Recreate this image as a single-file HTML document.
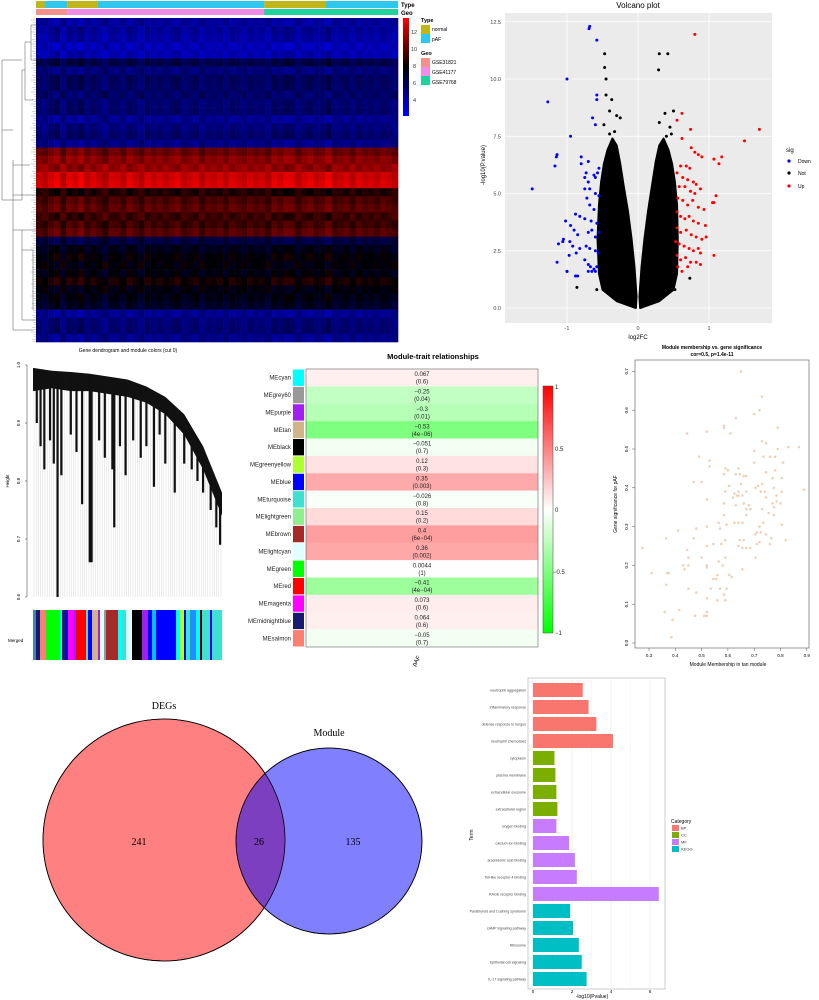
<!DOCTYPE html>
<html><head><meta charset="utf-8">
<style>
body{margin:0;background:#fff;}
svg{display:block;font-family:"Liberation Sans",sans-serif;}
</style></head>
<body>
<svg id="fig" width="819" height="1000" viewBox="0 0 819 1000">
<rect width="819" height="1000" fill="#fff"/>
<g id="hm"></g>
<g id="hmleg">
  <text x="401" y="7" font-size="6" font-weight="bold">Type</text>
  <text x="401" y="15" font-size="6" font-weight="bold">Geo</text>
  <defs><linearGradient id="hmgrad" x1="0" y1="0" x2="0" y2="1"><stop offset="0" stop-color="#ff0000"/><stop offset="0.5" stop-color="#000000"/><stop offset="1" stop-color="#0000ff"/></linearGradient></defs>
  <rect x="403" y="18" width="6" height="98" fill="url(#hmgrad)"/>
  <g font-size="5.5" fill="#333">
    <text x="411" y="34">12</text><text x="411" y="51">10</text><text x="413" y="68">8</text><text x="413" y="85">6</text><text x="413" y="102">4</text>
  </g>
  <text x="421" y="22" font-size="5.5" font-weight="bold">Type</text>
  <rect x="421" y="25" width="9" height="9" fill="#c0b51a"/>
  <text x="432" y="31" font-size="5">normal</text>
  <rect x="421" y="34" width="9" height="9" fill="#2ec7f0"/>
  <text x="432" y="41" font-size="5">pAF</text>
  <text x="421" y="55" font-size="5.5" font-weight="bold">Geo</text>
  <rect x="421" y="58" width="9" height="9" fill="#f4918a"/>
  <text x="432" y="64" font-size="5">GSE31821</text>
  <rect x="421" y="67" width="9" height="9" fill="#f08be8"/>
  <text x="432" y="74" font-size="5">GSE41177</text>
  <rect x="421" y="76" width="9" height="9" fill="#20d39a"/>
  <text x="432" y="84" font-size="5">GSE79768</text>
</g>

<g id="volc">
  <text x="638" y="8" font-size="8" text-anchor="middle">Volcano plot</text>
  <rect x="505" y="13" width="267" height="310" fill="#ebebeb"/>
  <text transform="translate(485,165) rotate(-90)" font-size="6" text-anchor="middle">-log10(P.value)</text>
  <text x="638" y="339" font-size="6" text-anchor="middle">log2FC</text>
  <text x="786" y="152" font-size="6">sig</text>
  <circle cx="789" cy="161" r="1.6" fill="#0000ff"/>
  <text x="798" y="163" font-size="5">Down</text>
  <circle cx="789" cy="173" r="1.6" fill="#000"/>
  <text x="798" y="175" font-size="5">Not</text>
  <circle cx="789" cy="186" r="1.6" fill="#ff0000"/>
  <text x="798" y="188" font-size="5">Up</text>
</g>

<g id="dendro">
  <text x="128" y="352" font-size="5" text-anchor="middle">Gene dendrogram and module colors (cut 0)</text>
  <text transform="translate(9,481) rotate(-90)" font-size="4.5" text-anchor="middle">Height</text>
  <text x="8" y="642" font-size="4.5">Merged</text>
</g>

<g id="mtr">
  <text x="433" y="359" font-size="7.5" font-weight="bold" text-anchor="middle">Module-trait relationships</text>
  <defs><linearGradient id="mtgrad" x1="0" y1="0" x2="0" y2="1"><stop offset="0" stop-color="#ff0000"/><stop offset="0.5" stop-color="#ffffff"/><stop offset="1" stop-color="#00ff00"/></linearGradient></defs>
  <rect x="543" y="386" width="10" height="247" fill="url(#mtgrad)" stroke="#444" stroke-width="0.5"/>
  <g font-size="6" fill="#222">
    <text x="555" y="389">1</text><text x="555" y="451">0.5</text><text x="555" y="512">0</text><text x="553" y="574">−0.5</text><text x="555" y="635">−1</text>
  </g>
  <text transform="translate(418,662) rotate(-60)" font-size="6" text-anchor="middle">pAF</text>
</g>

<g id="sc">
  <text x="712" y="349" font-size="5" font-weight="bold" text-anchor="middle">Module membership vs. gene significance</text>
  <text x="712" y="356" font-size="5" font-weight="bold" text-anchor="middle">cor=0.5, p=1.4e-11</text>
  <rect x="635" y="360" width="174" height="288" fill="#fff" stroke="#555" stroke-width="0.6"/>
  <text transform="translate(617,504) rotate(-90)" font-size="5" text-anchor="middle">Gene significance for pAF</text>
  <text x="728" y="666" font-size="5" text-anchor="middle">Module Membership in tan module</text>
</g>

<g id="venn">
  <defs><clipPath id="cl"><circle cx="164" cy="840" r="121"/></clipPath></defs>
  <circle cx="164" cy="840" r="121" fill="#ff8080" stroke="#000" stroke-width="0.8"/>
  <circle cx="329" cy="841" r="93" fill="#8080ff" stroke="#000" stroke-width="0.8"/>
  <circle cx="329" cy="841" r="93" fill="#7b3fbf" clip-path="url(#cl)"/>
  <circle cx="164" cy="840" r="121" fill="none" stroke="#000" stroke-width="0.8"/>
  <circle cx="329" cy="841" r="93" fill="none" stroke="#000" stroke-width="0.8"/>
  <g font-family="Liberation Serif,serif" font-size="10" text-anchor="middle">
    <text x="164" y="709">DEGs</text>
    <text x="329" y="736">Module</text>
    <text x="139" y="845">241</text>
    <text x="259" y="845">26</text>
    <text x="353" y="845">135</text>
  </g>
</g>

<g id="bar">
  <rect x="528" y="678" width="137" height="311" fill="#fff" stroke="#999" stroke-width="0.5"/>
  <text transform="translate(473,835) rotate(-90)" font-size="5" text-anchor="middle">Term</text>
  <text x="592" y="998" font-size="5" text-anchor="middle">-log10(Pvalue)</text>
  <text x="671" y="823" font-size="5">Category</text>
</g>
</svg>

<script>
var NS='http://www.w3.org/2000/svg';
function mk(parent,tag,attrs){var e=document.createElementNS(NS,tag);for(var k in attrs)e.setAttribute(k,attrs[k]);parent.appendChild(e);return e;}

/* ---------- heatmap data ---------- */
var hmRowValues=[5.4,5.2,5.0,4.9,4.8,6.6,6.0,6.2,6.1,6.3,5.9,6.0,5.6,5.7,6.0,5.8,9.5,10.0,10.4,11.0,11.2,8.6,9.0,9.3,9.0,8.8,9.2,7.0,7.4,7.8,8.0,7.6,8.2,7.9,7.5,7.2,5.6,5.8,5.9,5.7];
var hmColOffsets=[0.1,-0.2,0.3,0.6,-0.3,0.5,0.2,0.7,-0.1,0.4,0.0,-0.4,0.3,0.2,-0.2,0.5,0.1,-0.3,0.4,0.0,0.3,-0.1,0.2,0.5,-0.2,0.1,0.4,-0.3,0.2,0.0,0.3,-0.2,0.4,0.1,-0.1,0.3,0.0,0.2,-0.3,0.5,0.1,0.6,0.4,-0.2,0.3,0.5,0.0,0.2,0.7,-0.1,0.1,0.3,-0.2,0.4,0.0,0.2,-0.1,0.3,0.1,-0.2];
var typeSegments=[[0,0.025,'#c0b51a'],[0.025,0.086,'#2ec7f0'],[0.086,0.171,'#c0b51a'],[0.171,0.630,'#2ec7f0'],[0.630,0.801,'#c0b51a'],[0.801,1,'#2ec7f0']];
var geoSegments=[[0,0.086,'#f4918a'],[0.086,0.630,'#f08be8'],[0.630,1,'#20d39a']];
(function(){
 var g=document.getElementById('hm');var x0=36,x1=398,y0=18,y1=342;
 var rh=(y1-y0)/hmRowValues.length,cw=(x1-x0)/hmColOffsets.length;
 function col(v){if(v<8){var t=Math.min(1,(8-v)/4);return 'rgb(0,0,'+Math.round(225*t)+')';}var t2=Math.min(1,(v-8)/4);return 'rgb('+Math.round(255*t2)+',0,0)';}
 hmRowValues.forEach(function(rv,r){hmColOffsets.forEach(function(co,c){
   var sgn=(r%3===0)?-1:1;
   var cell=mk(g,'rect',{x:x0+c*cw,y:y0+r*rh,width:cw+0.3,height:rh+0.3,fill:col(rv+co*sgn)});
   
   
 });});
 typeSegments.forEach(function(s){var e=mk(g,'rect',{x:x0+s[0]*(x1-x0),y:1,width:(s[1]-s[0])*(x1-x0),height:7,fill:s[2]});
   
   });
 geoSegments.forEach(function(s){var e=mk(g,'rect',{x:x0+s[0]*(x1-x0),y:9,width:(s[1]-s[0])*(x1-x0),height:6,fill:s[2]});
   
   });
 var d='M36,25 H31 V60 H36 M31,42 H25 V100 H33 M25,70 H22 V200 H2 V60 H22 M13,160 V230 H36 M13,165 H30 M13,195 H36 M2,130 H13 M13,230 V330 H33 M22,250 H33 V310 M22,230 V320 H36';
 var dl=mk(g,'path',{d:d,fill:'none',stroke:'#555','stroke-width':0.5});
 
 
 for(var y=20;y<342;y+=2.4){var l=mk(g,'line',{x1:31+(Math.round(y)*7%4),y1:y,x2:36,y2:y,stroke:'#666','stroke-width':0.3});
   
   }
})();

/* ---------- volcano data ---------- */
var downPoints=[[-0.69,12.2],[-0.68,12.3],[-0.58,11.7],[-1.0,10.0],[-1.27,9.0],[-0.58,9.3],[-0.58,9.1],[-0.64,8.3],[-0.6,8.0],[-0.95,7.5],[-1.14,6.7],[-1.15,6.6],[-1.17,6.2],[-1.49,5.2],[-0.8,6.6],[-0.8,6.3],[-0.7,6.4],[-0.55,6.1],[-0.73,5.9],[-0.75,5.7],[-0.62,5.8],[-0.6,5.7],[-0.57,5.9],[-0.7,5.5],[-0.75,5.2],[-0.68,5.2],[-0.6,5.0],[-0.72,4.8],[-0.55,4.9],[-0.68,4.5],[-0.62,4.3],[-0.88,4.1],[-0.82,4.0],[-0.75,3.9],[-0.66,3.8],[-0.58,3.7],[-1.02,3.8],[-0.95,3.6],[-0.9,3.4],[-0.85,3.2],[-0.7,3.3],[-0.65,3.4],[-0.6,3.1],[-0.55,3.3],[-1.05,3.0],[-1.06,2.9],[-1.12,2.8],[-0.96,2.9],[-0.92,2.7],[-0.82,2.6],[-0.87,2.4],[-0.73,2.7],[-0.68,2.6],[-0.6,2.5],[-0.56,2.4],[-0.97,2.3],[-1.14,2.0],[-0.75,2.1],[-0.7,1.9],[-0.67,1.8],[-0.62,1.7],[-0.58,1.8],[-1.0,1.6],[-0.88,1.4],[-0.85,1.4],[-0.7,1.6],[-0.65,1.6],[-0.6,1.6]];
var upPoints=[[0.8,11.95],[1.71,7.8],[1.5,7.3],[0.62,8.5],[0.55,8.2],[0.74,7.8],[0.62,7.4],[1.07,6.5],[1.18,6.6],[1.14,6.3],[1.1,4.9],[1.07,4.6],[1.05,4.6],[1.07,2.3],[0.88,2.4],[0.75,7.0],[0.8,6.8],[0.85,6.7],[0.9,6.6],[0.6,6.2],[0.68,6.2],[0.73,6.1],[0.55,5.9],[0.63,5.7],[0.7,5.6],[0.78,5.5],[0.82,5.4],[0.58,5.3],[0.66,5.3],[0.74,5.1],[0.8,5.0],[0.88,5.2],[0.56,4.8],[0.63,4.7],[0.7,4.5],[0.77,4.7],[0.85,4.4],[0.93,4.3],[0.55,4.2],[0.6,4.0],[0.66,3.9],[0.72,4.0],[0.78,3.8],[0.85,3.7],[0.95,3.6],[0.55,3.5],[0.6,3.3],[0.68,3.4],[0.75,3.2],[0.82,3.1],[0.9,3.0],[0.96,3.1],[0.53,2.9],[0.58,2.8],[0.65,2.7],[0.72,2.6],[0.78,2.5],[0.85,2.6],[0.55,2.3],[0.6,2.1],[0.67,2.2],[0.74,2.0],[0.82,2.0],[0.88,1.9],[0.56,1.8],[0.62,1.6],[0.7,1.8]];
var notPoints=[[-0.47,11.1],[-0.47,10.5],[-0.45,10.0],[-0.45,9.3],[-0.37,9.1],[-0.4,8.6],[-0.3,8.4],[-0.25,8.3],[-0.48,8.0],[0.3,11.1],[0.42,11.1],[0.29,10.4],[0.5,8.6],[0.38,8.5],[0.3,8.1],[0.45,7.9],[0.47,7.6],[-0.4,7.6],[-0.33,7.7],[0.4,7.5],[-1.0,1.6],[-0.86,0.9],[-0.58,0.8],[0.52,0.8],[0.73,1.3]];
var notEnvelopeLeft=[[-0.03,0],[-0.3,0.3],[-0.5,0.8],[-0.55,1.5],[-0.57,3],[-0.55,4.5],[-0.52,5.5],[-0.48,6.3],[-0.43,6.9],[-0.36,7.4],[-0.3,7.1],[-0.25,6.3],[-0.2,5.3],[-0.14,4.2],[-0.09,3],[-0.05,1.8],[-0.02,0.5]];
var notEnvelopeRight=[[0.02,0.5],[0.05,1.8],[0.09,3],[0.14,4.2],[0.2,5.4],[0.25,6.4],[0.3,7.1],[0.36,7.4],[0.43,6.9],[0.48,6.3],[0.52,5.5],[0.55,4.5],[0.56,3],[0.55,1.5],[0.5,0.8],[0.3,0.3],[0.03,0]];
var volcXTicks=[-1,0,1];
var volcYTicks=[0,2.5,5,7.5,10,12.5];
var volcYTickLabels=['0.0','2.5','5.0','7.5','10.0','12.5'];
(function(){
 var g=document.getElementById('volc');
 function X(v){return 638+v*71;} function Y(v){return 308-v*22.9;}
 volcYTicks.forEach(function(t,i){
   var l=mk(g,'line',{x1:505,x2:772,y1:Y(t),y2:Y(t),stroke:'#fff','stroke-width':0.8});
   
   
   var tx=mk(g,'text',{x:501,y:Y(t)+2,'font-size':5.5,'text-anchor':'end',fill:'#444'});tx.textContent=volcYTickLabels[i];
   
   
 });
 volcXTicks.forEach(function(t){
   var l=mk(g,'line',{x1:X(t),x2:X(t),y1:13,y2:323,stroke:'#fff','stroke-width':0.8});
   
   
   var tx=mk(g,'text',{x:X(t),y:330,'font-size':5.5,'text-anchor':'middle',fill:'#444'});tx.textContent=String(t);
   
   
 });
 [notEnvelopeLeft,notEnvelopeRight].forEach(function(env){
   var p=mk(g,'polygon',{points:env.map(function(q){return X(q[0])+','+Y(q[1]);}).join(' '),fill:'#000',stroke:'#000','stroke-width':2,'stroke-linejoin':'round'});
   
   
 });
 function dots(arr,fill,name){arr.forEach(function(q){var c=mk(g,'circle',{cx:X(q[0]),cy:Y(q[1]),r:1.5,fill:fill});
   
   });}
 dots(notPoints,'#000','not-point');dots(downPoints,'#0000ff','down-point');dots(upPoints,'#ff0000','up-point');
})();

/* ---------- module dendrogram ---------- */
var dendroTopEnvelope=[0.995,0.99,0.988,0.985,0.98,0.975,0.963,0.945,0.915,0.86,0.78];
var dendroMassBottom=[0.955,0.96,0.955,0.955,0.95,0.945,0.935,0.915,0.88,0.82,0.74];
var dendroSpikeX=[0.02,0.04,0.06,0.09,0.11,0.13,0.15,0.2,0.23,0.26,0.3,0.31,0.35,0.38,0.42,0.43,0.46,0.49,0.53,0.57,0.6,0.64,0.67,0.7,0.75,0.8,0.84,0.87,0.9,0.94,0.97,0.99];
var dendroSpikeMin=[0.9,0.86,0.82,0.87,0.83,0.6,0.81,0.88,0.85,0.76,0.66,0.66,0.87,0.84,0.82,0.72,0.86,0.81,0.87,0.84,0.86,0.79,0.88,0.83,0.78,0.83,0.82,0.8,0.78,0.75,0.72,0.69];
var dendroYTicks=[1.0,0.9,0.8,0.7,0.6];
var moduleColorBar=[[33,36,'#4682b4'],[36,40,'#191970'],[40,46,'#fa8072'],[46,60,'#00ff00'],[60,62,'#00ffff'],[62,66,'#191970'],[66,68,'#0000ff'],[68,74,'#ff00ff'],[74,76,'#a020f0'],[76,86,'#ff0000'],[86,88,'#40e0d0'],[88,92,'#0000ff'],[92,98,'#d2b48c'],[98,100,'#a020f0'],[100,104,'#e0ffff'],[104,106,'#999999'],[106,118,'#a52a2a'],[118,122,'#00ffff'],[122,126,'#40e0d0'],[126,132,'#e0ffff'],[132,142,'#000000'],[142,148,'#a020f0'],[148,152,'#0000ff'],[152,156,'#00bfff'],[156,162,'#0000ff'],[162,176,'#0000ff'],[176,180,'#00ffff'],[180,184,'#adff2f'],[184,186,'#0000ff'],[186,190,'#40e0d0'],[190,196,'#1e90ff'],[196,200,'#00ffff'],[200,202,'#000000'],[202,210,'#40e0d0'],[210,212,'#0000ff'],[212,222,'#40e0d0']];
(function(){
 var g=document.getElementById('dendro');var x0=33,x1=222;
 function Y(v){return 365+(1-v)*580;} function X(f){return x0+f*(x1-x0);}
 mk(g,'line',{x1:27,x2:27,y1:Y(1),y2:Y(0.6),stroke:'#333','stroke-width':0.5});
 dendroYTicks.forEach(function(t){mk(g,'line',{x1:25,x2:27,y1:Y(t),y2:Y(t),stroke:'#333','stroke-width':0.5});
   var tx=mk(g,'text',{transform:'translate(20,'+Y(t)+') rotate(-90)','font-size':4.5,'text-anchor':'middle'});tx.textContent=t.toFixed(1);
   
   });
 function topAt(f){var i=Math.min(9,Math.floor(f*10));return dendroTopEnvelope[i]+(dendroTopEnvelope[i+1]-dendroTopEnvelope[i])*(f*10-i);}
 for(var x=x0+1;x<x1;x+=2.2){var f=(x-x0)/(x1-x0);
   var l=mk(g,'line',{x1:x,x2:x,y1:Y(topAt(f)),y2:Y(0.6),stroke:'#cfcfcf','stroke-width':0.4});
   
   }
 var pts=[];dendroTopEnvelope.forEach(function(v,i){pts.push(X(i/10)+','+Y(v));});
 for(var j=dendroMassBottom.length-1;j>=0;j--)pts.push(X(j/10)+','+Y(dendroMassBottom[j]));
 var m=mk(g,'polygon',{points:pts.join(' '),fill:'#111'});
 
 
 dendroSpikeX.forEach(function(f,i){var s=mk(g,'line',{x1:X(f),x2:X(f),y1:Y(topAt(f))+3,y2:Y(dendroSpikeMin[i]),stroke:'#111','stroke-width':2.2});
   
   });
 moduleColorBar.forEach(function(s){var r=mk(g,'rect',{x:s[0],y:610,width:s[1]-s[0],height:50,fill:s[2]});
   
   });
})();

/* ---------- module-trait ---------- */
var moduleNames=['MEcyan','MEgrey60','MEpurple','MEtan','MEblack','MEgreenyellow','MEblue','MEturquoise','MElightgreen','MEbrown','MElightcyan','MEgreen','MEred','MEmagenta','MEmidnightblue','MEsalmon'];
var moduleColors=['#00ffff','#999999','#a020f0','#d2b48c','#000000','#adff2f','#0000ff','#40e0d0','#90ee90','#a52a2a','#e0ffff','#00ff00','#ff0000','#ff00ff','#191970','#fa8072'];
var moduleCors=[0.067,-0.25,-0.3,-0.53,-0.051,0.12,0.35,-0.026,0.15,0.4,0.36,0.0044,-0.41,0.073,0.064,-0.05];
var moduleCorLabels=['0.067','−0.25','−0.3','−0.53','−0.051','0.12','0.35','−0.026','0.15','0.4','0.36','0.0044','−0.41','0.073','0.064','−0.05'];
var modulePvals=['(0.6)','(0.04)','(0.01)','(4e−06)','(0.7)','(0.3)','(0.003)','(0.8)','(0.2)','(6e−04)','(0.002)','(1)','(4e−04)','(0.6)','(0.6)','(0.7)'];
(function(){
 var g=document.getElementById('mtr');var y0=369,rh=(647-369)/16;
 function col(v){var t=Math.abs(v);var c=Math.round(255*(1-t*0.95));return v>=0?'rgb(255,'+c+','+c+')':'rgb('+c+',255,'+c+')';}
 moduleNames.forEach(function(n,i){var y=y0+i*rh;
   var c=mk(g,'rect',{x:306,y:y,width:232,height:rh+0.2,fill:col(moduleCors[i])});
   
   
   var sw=mk(g,'rect',{x:293,y:y+0.5,width:11,height:rh-1,fill:moduleColors[i]});
   
   
   var t=mk(g,'text',{x:291,y:y+rh/2+2,'font-size':6,'text-anchor':'end',fill:'#222'});t.textContent=n;
   
   
   var a=mk(g,'text',{x:422,y:y+rh/2-1.5,'font-size':6,'text-anchor':'middle',fill:'#222'});a.textContent=moduleCorLabels[i];
   
   
   var b=mk(g,'text',{x:422,y:y+rh/2+6,'font-size':6,'text-anchor':'middle',fill:'#222'});b.textContent=modulePvals[i];
   
   
 });
 var f=mk(g,'rect',{x:306,y:y0,width:232,height:278,fill:'none',stroke:'#666','stroke-width':0.6});
 
 
})();

/* ---------- scatter ---------- */
var mmValues=[0.65,0.73,0.72,0.70,0.63,0.79,0.585,0.585,0.52,0.445,0.61,0.73,0.745,0.83,0.79,0.87,0.70,0.49,0.53,0.735,0.76,0.78,0.70,0.81,0.53,0.59,0.64,0.78,0.60,0.585,0.63,0.645,0.745,0.66,0.67,0.77,0.805,0.47,0.50,0.73,0.715,0.605,0.65,0.705,0.775,0.89,0.805,0.64,0.67,0.725,0.74,0.59,0.625,0.635,0.655,0.62,0.64,0.745,0.785,0.52,0.585,0.66,0.68,0.63,0.785,0.80,0.77,0.67,0.685,0.73,0.775,0.585,0.755,0.775,0.67,0.625,0.64,0.655,0.565,0.52,0.595,0.735,0.805,0.57,0.48,0.72,0.41,0.71,0.725,0.705,0.745,0.47,0.365,0.59,0.765,0.82,0.645,0.66,0.575,0.545,0.52,0.76,0.72,0.64,0.655,0.67,0.685,0.71,0.275,0.445,0.45,0.50,0.59,0.705,0.565,0.52,0.43,0.45,0.435,0.58,0.52,0.655,0.31,0.37,0.375,0.605,0.56,0.615,0.555,0.545,0.365,0.45,0.535,0.57,0.595,0.48,0.585,0.52,0.59,0.56,0.415,0.36,0.52,0.475,0.51,0.52,0.39,0.385];
var gsValues=[0.70,0.635,0.60,0.59,0.58,0.555,0.56,0.555,0.545,0.54,0.54,0.52,0.515,0.505,0.50,0.505,0.495,0.48,0.47,0.48,0.48,0.48,0.465,0.465,0.455,0.45,0.45,0.445,0.445,0.435,0.435,0.435,0.44,0.43,0.43,0.425,0.425,0.415,0.415,0.41,0.405,0.405,0.41,0.40,0.40,0.395,0.39,0.39,0.39,0.39,0.39,0.39,0.385,0.38,0.38,0.375,0.38,0.375,0.38,0.37,0.36,0.36,0.355,0.355,0.365,0.36,0.36,0.345,0.345,0.345,0.35,0.33,0.335,0.33,0.33,0.31,0.31,0.31,0.31,0.30,0.305,0.31,0.305,0.295,0.295,0.30,0.29,0.285,0.285,0.28,0.28,0.27,0.27,0.265,0.27,0.265,0.265,0.265,0.255,0.255,0.25,0.255,0.26,0.25,0.245,0.245,0.245,0.255,0.245,0.24,0.22,0.22,0.22,0.22,0.21,0.20,0.20,0.20,0.19,0.20,0.195,0.19,0.18,0.18,0.18,0.175,0.175,0.17,0.165,0.165,0.15,0.14,0.14,0.14,0.14,0.13,0.125,0.115,0.11,0.11,0.085,0.08,0.08,0.07,0.07,0.07,0.06,0.015];
var scXTicks=[0.3,0.4,0.5,0.6,0.7,0.8,0.9];
var scYTicks=[0.0,0.1,0.2,0.3,0.4,0.5,0.6,0.7];
(function(){
 var g=document.getElementById('sc');
 function X(v){return 649+(v-0.3)*263;} function Y(v){return 643-v*388;}
 scXTicks.forEach(function(t){mk(g,'line',{x1:X(t),x2:X(t),y1:648,y2:651,stroke:'#555','stroke-width':0.5});
   var tx=mk(g,'text',{x:X(t),y:657,'font-size':4.5,'text-anchor':'middle'});tx.textContent=t.toFixed(1);
   
   });
 scYTicks.forEach(function(t){mk(g,'line',{x1:632,x2:635,y1:Y(t),y2:Y(t),stroke:'#555','stroke-width':0.5});
   var tx=mk(g,'text',{transform:'translate(628,'+Y(t)+') rotate(-90)','font-size':4.5,'text-anchor':'middle'});tx.textContent=t.toFixed(1);
   
   });
 mmValues.forEach(function(v,i){var c=mk(g,'circle',{cx:X(v),cy:Y(gsValues[i]),r:1.3,fill:'#ecd2bd'});
   
   });
})();

/* ---------- enrichment bars ---------- */
var termNames=['neutrophil aggregation','inflammatory response','defense response to fungus','neutrophil chemotaxis','cytoplasm','plasma membrane','extracellular exosome','extracellular region','oxygen binding','calcium ion binding','arachidonic acid binding','Toll-like receptor 4 binding','RAGE receptor binding','Parathyroid and Cushing syndrome','cAMP signaling pathway','Ribosome','Epithelial cell signaling','IL-17 signaling pathway'];
var termCategories=['BP','BP','BP','BP','CC','CC','CC','CC','MF','MF','MF','MF','MF','KEGG','KEGG','KEGG','KEGG','KEGG'];
var termValues=[2.55,2.85,3.25,4.1,1.1,1.15,1.2,1.25,1.2,1.85,2.15,2.25,6.45,1.9,2.05,2.35,2.5,2.75];
var categoryNames=['BP','CC','MF','KEGG'];
var barXTicks=[0,2,4,6];
(function(){
 var g=document.getElementById('bar');
 var catCol={BP:'#F8766D',CC:'#7CAE00',MF:'#C77CFF',KEGG:'#00BFC4'};
 function X(v){return 533+v*19.5;} var y0=690,step=17;
 for(var v=0;v<=6.5;v+=1){var l=mk(g,'line',{x1:X(v),x2:X(v),y1:678,y2:989,stroke:'#ececec','stroke-width':v%2?0.4:0.7});
   
   }
 barXTicks.forEach(function(t){var tx=mk(g,'text',{x:X(t),y:993,'font-size':4.5,'text-anchor':'middle'});tx.textContent=String(t);
   
   });
 termNames.forEach(function(n,i){var cy=y0+i*step;
   var b=mk(g,'rect',{x:X(0),y:cy-7,width:X(termValues[i])-X(0),height:14,fill:catCol[termCategories[i]]});
   
   
   var t=mk(g,'text',{x:526,y:cy+1.5,'font-size':3.6,'text-anchor':'end',fill:'#444'});t.textContent=n;
   
   
 });
 categoryNames.forEach(function(c,i){var y=825+i*7;
   var s=mk(g,'rect',{x:672,y:y,width:7,height:6,fill:catCol[c]});
   
   
   var t=mk(g,'text',{x:681,y:y+4.5,'font-size':4,fill:'#333'});t.textContent=c;
   
   });
})();
</script>
</body></html>
